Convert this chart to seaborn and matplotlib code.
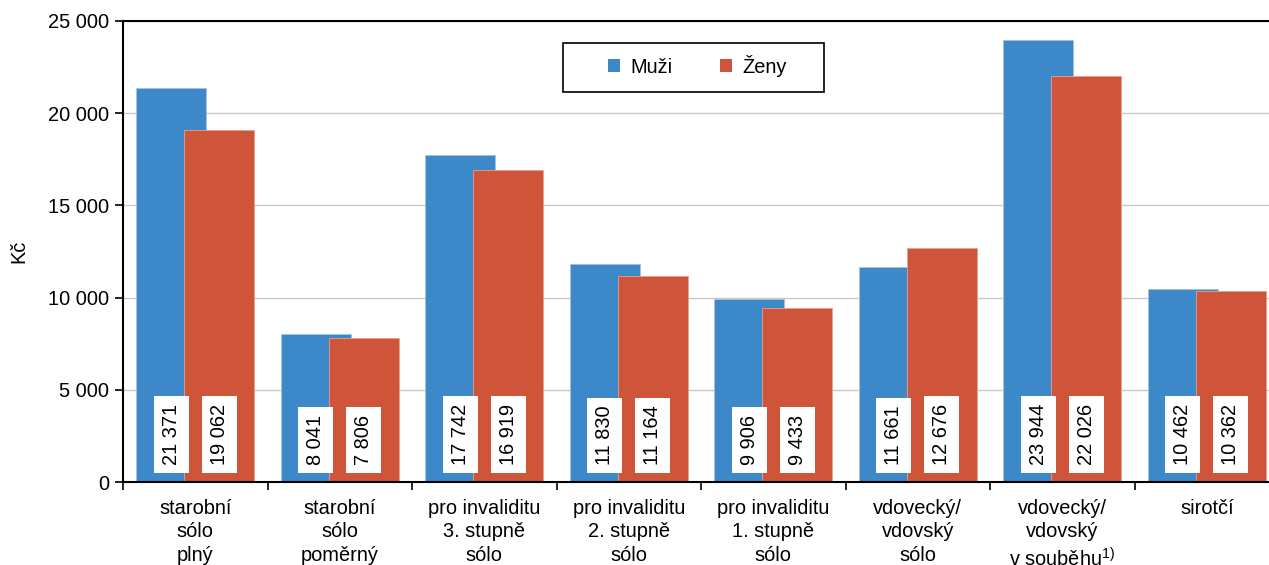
import numpy as np
import pandas as pd
import matplotlib
matplotlib.use("Agg")
import matplotlib.pyplot as plt
from matplotlib.patches import Rectangle
import seaborn as sns

# data
categories = ["starobní\nsólo\nplný", "starobní\nsólo\npoměrný", "pro invaliditu\n3. stupně\nsólo",
              "pro invaliditu\n2. stupně\nsólo", "pro invaliditu\n1. stupně\nsólo",
              "vdovecký/\nvdovský\nsólo", "vdovecký/\nvdovský\nv souběhu$^{1)}$", "sirotčí"]
muzi = [21371, 8041, 17742, 11830, 9906, 11661, 23944, 10462]
zeny = [19062, 7806, 16919, 11164, 9433, 12676, 22026, 10362]

blue = "#3C88C8"
red = "#CF553A"

sns.set_theme(style="white")
plt.rcParams["font.family"] = ["Liberation Sans", "DejaVu Sans"]
plt.rcParams["mathtext.fontset"] = "custom"
plt.rcParams["mathtext.rm"] = "Liberation Sans"
plt.rcParams["mathtext.it"] = "Liberation Sans"
for k in ("text.color", "axes.labelcolor", "xtick.color", "ytick.color"):
    plt.rcParams[k] = "black"

fig = plt.figure(figsize=(12.69, 5.65), dpi=100)
ax = fig.add_axes([123 / 1269, 83 / 565, 1156 / 1269, 461 / 565])

pos = np.arange(len(categories))
off = 0.166
w = 0.484
df_m = pd.DataFrame({"x": pos - off, "v": muzi})
df_z = pd.DataFrame({"x": pos + off, "v": zeny})
sns.barplot(data=df_m, x="x", y="v", native_scale=True, width=w, color=blue,
            saturation=1, ax=ax, label="Muži", edgecolor="#9fc3e3", linewidth=0.6)
sns.barplot(data=df_z, x="x", y="v", native_scale=True, width=w, color=red,
            saturation=1, ax=ax, label="Ženy", edgecolor="#e8a090", linewidth=0.6)

# value labels in white boxes
for xs, vals in ((pos - off, muzi), (pos + off, zeny)):
    for x, v in zip(xs, vals):
        ax.text(x, 900, f"{v:,}".replace(",", " "), rotation=90, ha="center", va="bottom",
                fontsize=14.4,
                bbox=dict(boxstyle="square,pad=0.4", fc="white", ec="none"))

ax.set_xlim(-0.5, len(categories) - 0.5)
ax.set_ylim(0, 25000)
ax.set_yticks(np.arange(0, 25001, 5000))
ax.set_yticklabels([f"{t:,}".replace(",", " ") for t in range(0, 25001, 5000)], fontsize=14.4)
ax.yaxis.grid(True, color="#c8c8c8", linewidth=1)
ax.set_axisbelow(True)

ax.set_xticks(pos)
ax.set_xticklabels(categories, fontsize=14.4, linespacing=1.3)
ax.set_xticks(np.arange(-0.5, len(categories), 1), minor=True)
ax.tick_params(axis="x", which="major", length=0, pad=12)
ax.tick_params(axis="x", which="minor", length=6, width=1.2, color="black", direction="out", bottom=True)
ax.tick_params(axis="y", length=6, width=1.2, color="black", direction="out", left=True, pad=4)
ax.set_xlabel("")
ax.set_ylabel("Kč", fontsize=14.4)
ax.yaxis.set_label_coords(-0.082, 0.5)

for s in ("left", "bottom", "top"):
    ax.spines[s].set_color("black")
    ax.spines[s].set_linewidth(1.5)
ax.spines["right"].set_visible(False)

leg = ax.legend(loc="center", bbox_to_anchor=(0.497, 0.903), ncol=2, fontsize=14.4,
                frameon=False, handlelength=0.6, handleheight=0.6,
                columnspacing=2.4, handletextpad=0.5)
for h in leg.legend_handles:
    h.set_edgecolor("none")
# legend frame
ax.add_patch(Rectangle(((563 - 123) / 1156, (482 - 92) / 461), 261 / 1156, 49 / 461,
                       transform=ax.transAxes, fill=False, ec="black", lw=1.2,
                       zorder=5, clip_on=False))

fig.savefig("out.png", dpi=100)
